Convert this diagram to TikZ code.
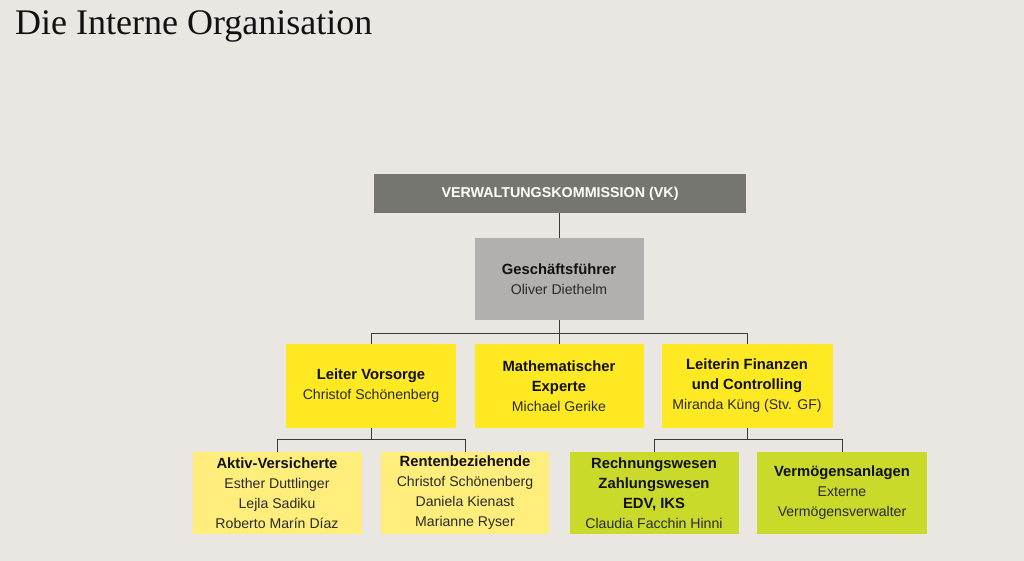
\documentclass[tikz,border=0pt]{standalone}
\usepackage{fontspec}
\setmainfont{Liberation Sans}
\newfontfamily\titlefont{Liberation Serif}
\definecolor{bg}{HTML}{EAE7E2}
\definecolor{vkc}{HTML}{767671}
\definecolor{gfc}{HTML}{B1B0AE}
\definecolor{yel}{HTML}{FFE922}
\definecolor{lyel}{HTML}{FFEE7B}
\definecolor{lime}{HTML}{C9DA2A}
\definecolor{txt}{HTML}{2A2A2A}
\definecolor{hd}{HTML}{111111}
\definecolor{linec}{HTML}{3A3A3A}
\newcommand{\hdr}[1]{{\color{hd}\bfseries\fontsize{14.8}{20}\selectfont #1}}
\begin{document}
\begin{tikzpicture}[x=1pt,y=-1pt,
  box/.style={draw=none, align=center, inner sep=0pt, text=txt,
    font=\fontsize{14.1}{20}\selectfont},
  conn/.style={draw=linec, line width=1pt}]
\useasboundingbox (0,0) rectangle (1024,560);
\fill[bg] (-5,-5) rectangle (1030,566);
\node[anchor=base west, inner sep=0pt, text=hd, font=\titlefont\fontsize{36}{40}\selectfont] (title) at (15,34) {Die Interne Organisation};
\node[box, fill=vkc, minimum width=372pt, minimum height=39pt, text=white, font=\bfseries\fontsize{14.3}{20}\selectfont] (vk) at (560,193.5) {VERWALTUNGSKOMMISSION (VK)};
\node[box, fill=gfc, minimum width=169pt, minimum height=82pt] (gf) at (559,279) {\hdr{Geschäftsführer}\\Oliver Diethelm};
\node[box, fill=yel, minimum width=170pt, minimum height=84pt] (lv) at (371,386) {\hdr{Leiter Vorsorge}\\Christof Schönenberg};
\node[box, fill=yel, minimum width=169pt, minimum height=84pt] (me) at (559,386) {\hdr{Mathematischer}\\\hdr{Experte}\\Michael Gerike};
\node[box, fill=yel, minimum width=171pt, minimum height=84pt] (lf) at (747,386) {\hdr{Leiterin Finanzen}\\\hdr{und Controlling}\\Miranda Küng (Stv. GF)};
\node[box, fill=lyel, minimum width=169pt, minimum height=82pt] (av) at (277,493) {\hdr{Aktiv-Versicherte}\\Esther Duttlinger\\Lejla Sadiku\\Roberto Marín Díaz};
\node[box, fill=lyel, minimum width=168pt, minimum height=82pt] (rb) at (465,493) {\hdr{Rentenbeziehende}\\Christof Schönenberg\\Daniela Kienast\\Marianne Ryser};
\node[box, fill=lime, minimum width=169pt, minimum height=82pt] (rw) at (654,493) {\hdr{Rechnungswesen}\\\hdr{Zahlungswesen}\\\hdr{EDV, IKS}\\Claudia Facchin Hinni};
\node[box, fill=lime, minimum width=170pt, minimum height=82pt] (va) at (842,493) {\hdr{Vermögensanlagen}\\Externe\\Vermögensverwalter};
% connectors
\draw[conn] (gf.north) -- (gf.north |- vk.south);
\draw[conn] (gf.south) -- (me.north);
\draw[conn] (lv.north) -- ++(0,-10) -| (lf.north);
\draw[conn] (lv.south) -- ++(0,12);
\draw[conn] (av.north) -- ++(0,-12) -| (rb.north);
\draw[conn] (lf.south) -- ++(0,12);
\draw[conn] (rw.north) -- ++(0,-12) -| (va.north);
\end{tikzpicture}
\end{document}
